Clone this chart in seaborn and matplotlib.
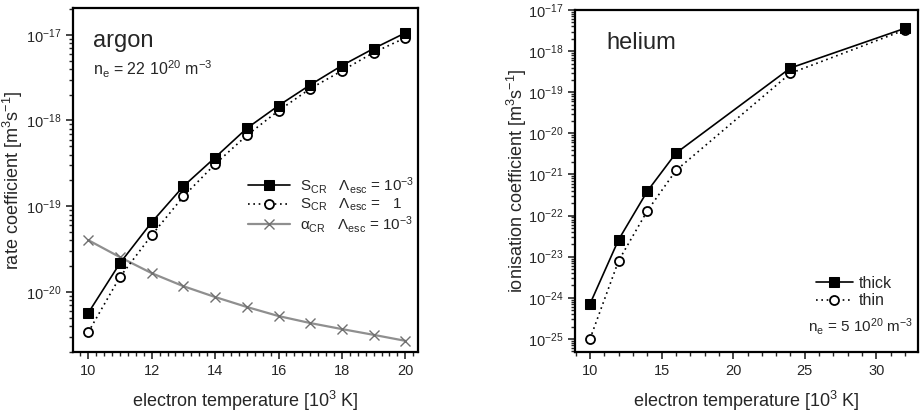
import numpy as np
import pandas as pd
import matplotlib
matplotlib.use("Agg")
import matplotlib.pyplot as plt
import matplotlib.ticker as mticker
import seaborn as sns

# ---------------- data ----------------
# argon panel
ar_T = [10, 11, 12, 13, 14, 15, 16, 17, 18, 19, 20]
ar_S_thick = [5.7e-21, 2.17e-20, 6.5e-20, 1.71e-19, 3.7e-19, 8.1e-19,
              1.49e-18, 2.6e-18, 4.37e-18, 6.9e-18, 1.05e-17]
ar_S_thin = [3.4e-21, 1.5e-20, 4.6e-20, 1.3e-19, 3.1e-19, 6.7e-19,
             1.3e-18, 2.35e-18, 3.8e-18, 6.2e-18, 9.2e-18]
ar_alpha = [4.03e-20, 2.55e-20, 1.66e-20, 1.17e-20, 8.75e-21, 6.7e-21,
            5.25e-21, 4.35e-21, 3.7e-21, 3.17e-21, 2.7e-21]
ar_yticks = [1e-20, 1e-19, 1e-18, 1e-17]
ar_xticks = [10, 12, 14, 16, 18, 20]

# helium panel
he_T = [10, 12, 14, 16, 24, 32]
he_thick = [7.1e-25, 2.6e-23, 3.9e-22, 3.3e-21, 3.9e-19, 3.6e-18]
he_thin = [1.0e-25, 8.0e-24, 1.3e-22, 1.25e-21, 2.9e-19, 3.3e-18]
he_yticks = [1e-25, 1e-24, 1e-23, 1e-22, 1e-21, 1e-20, 1e-19, 1e-18, 1e-17]
he_xticks = [10, 15, 20, 25, 30]

ar_labels = [r"S$_{\mathregular{CR}}$   $\Lambda_{\mathregular{esc}}$ = 10$^{-3}$",
             r"S$_{\mathregular{CR}}$   $\Lambda_{\mathregular{esc}}$ =   1",
             r"$\alpha_{\mathregular{CR}}$   $\Lambda_{\mathregular{esc}}$ = 10$^{-3}$"]
he_labels = ["thick", "thin"]

# ---------------- style ----------------
sns.set_style("ticks")
plt.rcParams["font.family"] = ["Liberation Sans", "DejaVu Sans"]
plt.rcParams["mathtext.fontset"] = "custom"
plt.rcParams["mathtext.rm"] = "Liberation Sans"
plt.rcParams["mathtext.it"] = "Liberation Sans"
plt.rcParams["mathtext.default"] = "regular"
plt.rcParams["axes.linewidth"] = 1.6
plt.rcParams["xtick.direction"] = "out"
plt.rcParams["ytick.direction"] = "out"

fig = plt.figure(figsize=(9.22, 4.15), dpi=100)
ax1 = fig.add_axes([0.0792, 0.1518, 0.3742, 0.829])
ax2 = fig.add_axes([0.6236, 0.1518, 0.372, 0.824])

df_ar = pd.DataFrame({"T": ar_T, "thick": ar_S_thick, "thin": ar_S_thin, "alpha": ar_alpha})
df_he = pd.DataFrame({"T": he_T, "thick": he_thick, "thin": he_thin})

log_fmt = mticker.LogFormatterSciNotation()

# ----- argon -----
sns.lineplot(data=df_ar, x="T", y="alpha", ax=ax1, color="#8f8f8f", lw=1.6,
             marker="x", markersize=7, markeredgewidth=1.0, markeredgecolor="#707070",
             label=ar_labels[2], zorder=2)
sns.lineplot(data=df_ar, x="T", y="thin", ax=ax1, color="black", lw=1.2,
             linestyle=(0, (1, 2.2)), marker="o", markersize=6.5,
             markerfacecolor="white", markeredgecolor="black", markeredgewidth=1.3,
             label=ar_labels[1], zorder=3)
sns.lineplot(data=df_ar, x="T", y="thick", ax=ax1, color="black", lw=1.2,
             marker="s", markersize=6.5, markerfacecolor="black",
             markeredgecolor="black", label=ar_labels[0], zorder=4)

ax1.set_yscale("log")
ax1.set_xlim(9.52, 20.4)
ax1.set_ylim(2.0e-21, 2.05e-17)
ax1.xaxis.set_major_locator(mticker.FixedLocator(ar_xticks))
ax1.xaxis.set_minor_locator(mticker.MultipleLocator(0.25))
ax1.yaxis.set_major_locator(mticker.FixedLocator(ar_yticks))
ax1.yaxis.set_major_formatter(log_fmt)
ax1.yaxis.set_minor_locator(mticker.LogLocator(base=10, subs=np.arange(2, 10), numticks=20))
ax1.yaxis.set_minor_formatter(mticker.NullFormatter())
ax1.set_xlabel(r"electron temperature [10$^3$ K]", fontsize=13, labelpad=8)
ax1.set_ylabel(r"rate coefficient [m$^3$s$^{-1}$]", fontsize=13)
ax1.yaxis.set_label_coords(-0.14, 0.5)
ax1.tick_params(axis="both", which="major", labelsize=10.5, length=5, width=1.2)
ax1.tick_params(axis="both", which="minor", length=3, width=1.0)
ax1.text(0.058, 0.905, "argon", transform=ax1.transAxes, fontsize=17, va="center")
ax1.text(0.058, 0.822, r"n$_{\mathregular{e}}$ = 22 10$^{20}$ m$^{-3}$",
         transform=ax1.transAxes, fontsize=11.5, va="center")
h, l = ax1.get_legend_handles_labels()
order = [2, 1, 0]
ax1.legend([h[i] for i in order], [l[i] for i in order], loc="upper left",
           bbox_to_anchor=(0.475, 0.545), frameon=False, fontsize=11,
           handlelength=2.8, handletextpad=0.6, labelspacing=0.05, borderpad=0.2)

# ----- helium -----
sns.lineplot(data=df_he, x="T", y="thin", ax=ax2, color="black", lw=1.2,
             linestyle=(0, (1, 2.2)), marker="o", markersize=6.5,
             markerfacecolor="white", markeredgecolor="black", markeredgewidth=1.3,
             label=he_labels[1], zorder=3)
sns.lineplot(data=df_he, x="T", y="thick", ax=ax2, color="black", lw=1.2,
             marker="s", markersize=6.5, markerfacecolor="black",
             markeredgecolor="black", label=he_labels[0], zorder=4)

ax2.set_yscale("log")
ax2.set_xlim(8.95, 32.9)
ax2.set_ylim(4.8e-26, 1e-17)
ax2.xaxis.set_major_locator(mticker.FixedLocator(he_xticks))
ax2.xaxis.set_minor_locator(mticker.MultipleLocator(1))
ax2.yaxis.set_major_locator(mticker.FixedLocator(he_yticks))
ax2.yaxis.set_major_formatter(log_fmt)
ax2.yaxis.set_minor_locator(mticker.LogLocator(base=10, subs=np.arange(2, 10), numticks=20))
ax2.yaxis.set_minor_formatter(mticker.NullFormatter())
ax2.set_xlabel(r"electron temperature [10$^3$ K]", fontsize=13, labelpad=8)
ax2.set_ylabel(r"ionisation coefficient [m$^3$s$^{-1}$]", fontsize=13)
ax2.yaxis.set_label_coords(-0.135, 0.5)
ax2.tick_params(axis="both", which="major", labelsize=10.5, length=5, width=1.2)
ax2.tick_params(axis="both", which="minor", length=3, width=1.0)
ax2.text(0.093, 0.905, "helium", transform=ax2.transAxes, fontsize=17, va="center")
ax2.text(0.68, 0.075, r"n$_{\mathregular{e}}$ = 5 10$^{20}$ m$^{-3}$",
         transform=ax2.transAxes, fontsize=11, va="center")
h, l = ax2.get_legend_handles_labels()
ax2.legend([h[1], h[0]], [l[1], l[0]], loc="upper left",
           bbox_to_anchor=(0.67, 0.255), frameon=False, fontsize=11.5,
           handlelength=2.3, handletextpad=0.4, labelspacing=0.15, borderpad=0.2)

for ax in (ax1, ax2):
    for s in ax.spines.values():
        s.set_visible(True)
        s.set_color("black")

fig.savefig("out.png", dpi=100)
